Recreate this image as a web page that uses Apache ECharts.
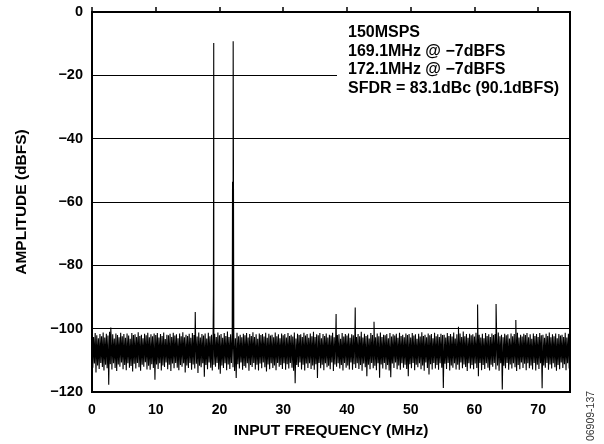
<!DOCTYPE html>
<html>
<head>
<meta charset="utf-8">
<script src="https://cdn.jsdelivr.net/npm/echarts@6/dist/echarts.min.js"></script>
<style>
html,body{margin:0;padding:0;background:#fff;}
#c{width:604px;height:444px;}
</style>
</head>
<body>
<div id="c"></div>
<script>
// ---- data ----
const binStep = 0.25; // MHz; upper sample at k*binStep, lower sample half a bin later
// upper edge of the noise floor (one value per 0.25 MHz, 0 .. 74.75)
const noiseHi = [
-101.9,-102.6,-101.4,-102.1,-103.0,-101.7,-102.4,-101.2,-102.8,-101.6,-102.2,-101.0,-102.5,-101.8,-103.1,-101.5,-102.0,-102.7,-101.3,-102.4,
-101.7,-102.9,-101.5,-102.2,-103.2,-101.4,-102.0,-101.8,-102.6,-101.1,-102.3,-101.9,-103.0,-101.6,-102.1,-101.3,-102.7,-101.8,-102.4,-101.5,
-102.0,-101.4,-102.8,-101.7,-102.3,-101.2,-103.3,-101.9,-102.1,-101.6,-102.6,-101.3,-102.2,-101.8,-103.0,-101.5,-102.4,-101.1,-102.7,-101.9,
-102.3,-101.6,-102.9,-101.4,-102.0,-101.8,-102.5,-101.2,-102.8,-101.7,-102.2,-101.5,-103.1,-101.3,-102.4,-101.9,-102.0,-101.6,-102.6,-101.2,
-102.1,-101.7,-102.9,-101.4,-102.3,-100.9,-102.6,-101.8,-102.2,-101.5,-103.0,-101.3,-102.4,-101.9,-102.7,-101.6,-102.1,-101.4,-102.8,-101.7,
-102.3,-101.1,-102.6,-101.8,-103.2,-101.5,-102.0,-101.7,-102.5,-101.3,-102.9,-101.6,-102.2,-101.9,-102.7,-101.2,-102.4,-101.8,-103.0,-101.5,
-102.1,-101.7,-102.8,-101.4,-102.3,-101.9,-102.5,-101.2,-103.1,-101.6,-102.0,-101.8,-102.6,-101.3,-102.2,-101.7,-102.9,-101.5,-102.4,-101.0,
-102.6,-101.8,-102.1,-101.4,-103.0,-101.7,-102.3,-101.5,-102.8,-101.9,-102.2,-101.3,-102.7,-101.6,-102.0,-101.8,-103.2,-101.4,-102.5,-101.7,
-102.2,-101.5,-102.9,-101.8,-102.1,-101.3,-102.6,-101.7,-102.4,-101.0,-102.8,-101.6,-102.3,-101.9,-103.1,-101.4,-102.0,-101.8,-102.7,-101.5,
-102.4,-101.2,-102.6,-101.9,-102.1,-101.7,-103.0,-101.4,-102.5,-101.8,-102.2,-101.6,-102.9,-101.3,-102.3,-101.9,-102.7,-101.5,-102.0,-101.7,
-102.8,-101.4,-102.2,-101.8,-103.2,-101.6,-102.5,-101.1,-102.3,-101.9,-102.7,-101.5,-102.1,-101.7,-103.0,-101.3,-102.4,-101.8,-102.6,-101.6,
-102.0,-101.9,-102.8,-101.4,-102.3,-101.7,-102.5,-101.2,-103.1,-101.8,-102.2,-101.5,-102.6,-100.9,-102.4,-101.7,-102.9,-101.6,-102.1,-101.8,
-102.5,-101.3,-102.2,-101.9,-102.8,-101.6,-103.0,-101.4,-102.3,-101.8,-102.6,-101.5,-102.0,-101.7,-102.9,-101.2,-102.4,-101.9,-102.7,-101.6,
-102.1,-101.8,-103.1,-101.5,-102.4,-101.7,-102.2,-101.3,-102.8,-101.9,-102.5,-101.6,-102.0,-101.4,-102.7,-101.8,-103.2,-101.5,-102.3,-101.7,
-102.6,-101.4,-102.1,-101.9,-102.9,-101.6,-102.3,-101.2,-102.7,-101.8,-102.4,-101.5,-103.0,-101.7,-102.2,-101.9,-102.6,-101.3,-102.8,-101.6
];
// lower edge of the noise floor (one value per 0.25 MHz, 0.125 .. 74.875)
const noiseLo = [
-112.3,-111.0,-113.8,-111.6,-112.7,-110.8,-112.1,-113.2,-111.4,-112.5,-117.7,-111.2,-112.9,-110.9,-112.4,-113.4,-111.3,-112.0,-110.7,-112.8,
-111.5,-113.1,-110.9,-112.3,-111.8,-113.5,-111.1,-112.6,-110.8,-112.2,-113.3,-111.4,-112.0,-110.6,-112.9,-111.7,-113.0,-111.2,-112.4,-116.1,
-111.3,-112.7,-110.9,-113.2,-111.6,-112.1,-110.7,-112.8,-111.4,-113.4,-111.0,-112.5,-110.8,-112.3,-113.1,-111.5,-112.0,-110.9,-113.8,-111.6,
-112.4,-110.8,-113.0,-111.3,-112.6,-111.1,-114.0,-111.7,-112.2,-110.9,-115.2,-111.5,-112.8,-110.7,-112.3,-113.2,-111.4,-112.0,-110.8,-112.9,
-114.2,-111.6,-112.4,-110.9,-113.1,-111.3,-112.7,-110.8,-112.2,-113.4,-115.6,-111.2,-112.6,-110.7,-113.0,-111.8,-112.3,-110.9,-113.3,-111.5,
-112.1,-110.8,-112.9,-111.4,-113.2,-111.0,-112.5,-110.7,-112.2,-113.5,-111.3,-112.8,-110.9,-112.4,-111.6,-113.1,-110.8,-112.0,-111.5,-112.7,
-110.9,-113.0,-111.2,-112.6,-110.8,-112.3,-113.3,-117.2,-111.5,-112.1,-110.7,-112.9,-111.4,-113.2,-111.0,-112.4,-110.9,-112.7,-111.6,-113.0,
-111.2,-115.6,-110.8,-112.5,-111.4,-113.1,-110.9,-112.2,-111.7,-112.8,-110.7,-113.4,-111.3,-112.0,-110.9,-112.6,-111.5,-113.2,-110.8,-112.3,
-111.6,-112.9,-110.7,-113.0,-111.2,-112.4,-110.9,-112.7,-111.5,-113.3,-111.0,-112.2,-115.0,-111.4,-112.8,-110.8,-112.5,-111.7,-113.1,-110.9,
-115.5,-111.3,-112.6,-110.8,-112.9,-111.5,-113.2,-115.3,-111.0,-112.4,-110.7,-112.8,-111.6,-113.0,-110.9,-112.3,-111.4,-112.7,-115.0,-111.2,
-112.5,-110.8,-113.1,-111.4,-112.2,-110.9,-112.8,-111.6,-113.3,-110.7,-112.4,-114.5,-111.2,-112.9,-110.8,-112.6,-111.5,-113.0,-110.9,-112.3,
-118.7,-111.1,-112.7,-110.8,-113.2,-111.6,-112.3,-110.9,-112.9,-111.4,-113.0,-110.7,-112.5,-111.3,-112.1,-113.4,-110.9,-112.6,-111.5,-112.8,
-111.0,-112.4,-115.0,-110.8,-113.1,-111.5,-112.7,-110.9,-112.3,-113.2,-111.4,-112.0,-110.8,-112.9,-111.6,-113.3,-110.9,-119.2,-111.7,-112.5,
-110.8,-113.0,-111.3,-112.6,-110.9,-112.2,-113.4,-111.5,-112.8,-110.7,-112.4,-111.1,-113.1,-110.9,-112.5,-111.6,-112.9,-110.8,-113.2,-111.4,
-112.7,-110.9,-118.8,-111.6,-112.3,-110.8,-113.0,-111.3,-112.6,-110.9,-112.2,-113.3,-111.5,-112.8,-110.7,-112.4,-111.2,-113.1,-110.9,-112.6
];
// tones and spurs
const spurFreq  = [2.95, 16.2, 19.05, 19.1, 22.05, 22.15, 38.3, 41.3, 44.25, 57.5, 60.5, 63.4, 66.5];
const spurLevel = [-99.6, -94.7, -89.0, -9.8, -53.6, -9.2, -95.4, -93.3, -97.8, -99.4, -92.4, -92.2, -97.3];

const xTicks = [0, 10, 20, 30, 40, 50, 60, 70];
const yTicks = [0, -20, -40, -60, -80, -100, -120];
const annotation = ['150MSPS', '169.1MHz @ \u22127dBFS', '172.1MHz @ \u22127dBFS', 'SFDR = 83.1dBc (90.1dBFS)'];
const figureId = '06909-137';

// ---- build series ----
const pts = [];
for (let k = 0; k < noiseHi.length; k++) {
  pts.push([k * binStep, noiseHi[k]]);
  pts.push([k * binStep + binStep / 2, noiseLo[k]]);
}
for (let i = 0; i < spurFreq.length; i++) pts.push([spurFreq[i], spurLevel[i]]);
pts.sort((a, b) => a[0] - b[0]);

const FONT = '"Liberation Sans", Arial, Helvetica, sans-serif';
const chart = echarts.init(document.getElementById('c'), null, {renderer: 'canvas'});

const gridL = 92, gridT = 12, gridR = 570, gridB = 394;
const textX = 348, textY0 = 32.5, textDY = 18.7;

chart.setOption({
  animation: false,
  backgroundColor: '#fff',
  grid: {left: gridL, top: gridT, right: 604 - gridR, bottom: 444 - gridB,
         show: true, borderColor: '#000', borderWidth: 2, backgroundColor: 'transparent'},
  xAxis: {
    type: 'value', min: xTicks[0], max: 75, interval: 10,
    name: 'INPUT FREQUENCY (MHz)', nameLocation: 'middle', nameGap: 31,
    nameTextStyle: {fontFamily: FONT, fontWeight: 'bold', fontSize: 15.5, color: '#000'},
    axisLine: {show: true, lineStyle: {color: '#000', width: 2}},
    axisTick: {show: true, inside: true, length: 5, lineStyle: {color: '#000', width: 1.5}},
    axisLabel: {fontFamily: FONT, fontWeight: 'bold', fontSize: 14, color: '#000', margin: 11,
                showMaxLabel: false,
                formatter: v => xTicks.indexOf(v) >= 0 ? String(v) : ''},
    splitLine: {show: false}
  },
  yAxis: {
    type: 'value', min: yTicks[yTicks.length - 1], max: yTicks[0], interval: 20,
    name: 'AMPLITUDE (dBFS)', nameLocation: 'middle', nameGap: 62, nameRotate: 90,
    nameTextStyle: {fontFamily: FONT, fontWeight: 'bold', fontSize: 15.5, color: '#000'},
    axisLine: {show: true, lineStyle: {color: '#000', width: 2}},
    axisTick: {show: false},
    axisLabel: {fontFamily: FONT, fontWeight: 'bold', fontSize: 14.5, color: '#000', margin: 9,
                formatter: v => v < 0 ? '\u2212' + Math.abs(v) : String(v)},
    splitLine: {show: true, lineStyle: {color: '#000', width: 1}}
  },
  series: [{
    type: 'line', data: pts, showSymbol: false, symbol: 'none',
    lineStyle: {color: '#000', width: 1.1}, z: 3, silent: true
  }],
  graphic: [
    {type: 'rect', z: 1, silent: true,
     shape: {x: 337, y: 18, width: 232, height: 90}, style: {fill: '#fff'}},
    ...annotation.map((t, i) => ({
      type: 'text', z: 5, silent: true, x: textX, y: textY0 + i * textDY,
      style: {text: t, font: 'bold 16px ' + FONT, fill: '#000', align: 'left', verticalAlign: 'middle'}
    })),
    {type: 'text', z: 5, silent: true, x: 591, y: 416, rotation: Math.PI / 2,
     style: {text: figureId, font: '10.5px ' + FONT, fill: '#333', align: 'center', verticalAlign: 'middle'}}
  ]
});
</script>
</body>
</html>
